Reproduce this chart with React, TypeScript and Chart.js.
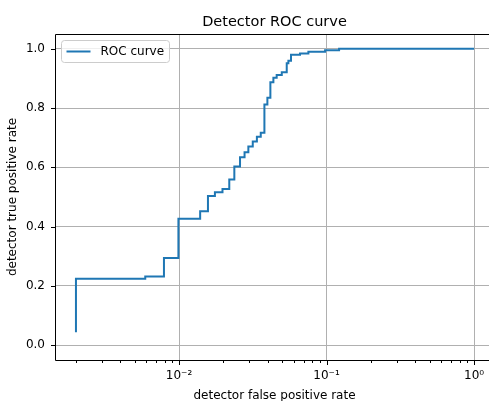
import { useEffect, useRef } from 'react';
import { Chart, registerables } from 'chart.js';

Chart.register(...registerables);

const TITLE = 'Detector ROC curve';
const X_LABEL = 'detector false positive rate';
const Y_LABEL = 'detector true positive rate';
const SERIES_LABEL = 'ROC curve';

// ROC step points (false positive rate, true positive rate)
const fpr = [
  0.002, 0.002, 0.0059, 0.0079, 0.0099, 0.0139, 0.0157, 0.0175, 0.0197, 0.0219,
  0.0237, 0.0259, 0.0278, 0.0295, 0.0316, 0.0337, 0.0358, 0.0379, 0.0397, 0.0416,
  0.0436, 0.0459, 0.0497, 0.0537, 0.0551, 0.0574, 0.0661, 0.0753, 0.0977, 0.1216, 1.0,
];
const tpr = [
  0.044, 0.224, 0.232, 0.294, 0.427, 0.452, 0.503, 0.516, 0.527, 0.559,
  0.603, 0.634, 0.651, 0.670, 0.687, 0.703, 0.717, 0.812, 0.835, 0.887,
  0.902, 0.912, 0.921, 0.951, 0.960, 0.980, 0.984, 0.990, 0.995, 1.0, 1.0,
];

const yTicks = [0.0, 0.2, 0.4, 0.6, 0.8, 1.0];
const xMajorTicks = [0.01, 0.1, 1];
const xMinorTicks = [
  0.002, 0.003, 0.004, 0.005, 0.006, 0.007, 0.008, 0.009,
  0.02, 0.03, 0.04, 0.05, 0.06, 0.07, 0.08, 0.09,
  0.2, 0.3, 0.4, 0.5, 0.6, 0.7, 0.8, 0.9,
];
const SUP: Record<string, string> = { '-': '⁻', '0': '⁰', '1': '¹', '2': '²', '3': '³' };

const FONT = 'DejaVu Sans';
const LINE_COLOR = '#1f77b4';
const GRID_COLOR = '#b0b0b0';

const isMajor = (v: number) => {
  const l = Math.log10(v);
  return Math.abs(l - Math.round(l)) < 1e-9;
};

const framePlugin = {
  id: 'frame',
  afterDatasetsDraw(chart: any) {
    const { ctx, chartArea: a, scales } = chart;
    ctx.save();
    const L = Math.round(a.left) + 0.5;
    const T = Math.round(a.top) + 0.5;
    const R = Math.round(a.right) + 0.5;
    const B = Math.round(a.bottom) + 0.5;
    ctx.strokeStyle = '#000';
    ctx.lineWidth = 1;
    // left, top and bottom spines (the right spine lies outside the picture)
    ctx.beginPath();
    ctx.moveTo(R, T); ctx.lineTo(L, T); ctx.lineTo(L, B); ctx.lineTo(R, B);
    ctx.stroke();
    // tick marks
    ctx.beginPath();
    [...xMajorTicks, ...xMinorTicks].forEach((v) => {
      const px = Math.round(scales.x.getPixelForValue(v)) + 0.5;
      const len = isMajor(v) ? 4.5 : 2.5;
      ctx.moveTo(px, B);
      ctx.lineTo(px, B + len);
    });
    yTicks.forEach((v) => {
      const py = Math.round(scales.y.getPixelForValue(v)) + 0.5;
      ctx.moveTo(L, py);
      ctx.lineTo(L - 4.5, py);
    });
    ctx.stroke();
    // title, centred on the axes
    ctx.fillStyle = '#000';
    ctx.font = `14.5px "${FONT}"`;
    ctx.textAlign = 'center';
    ctx.textBaseline = 'alphabetic';
    ctx.fillText(TITLE, (a.left + a.right) / 2, 26);
    // legend
    const bx = L + 6, by = T + 6, bw = 108, bh = 22, r = 3;
    ctx.beginPath();
    ctx.moveTo(bx + r, by);
    ctx.lineTo(bx + bw - r, by);
    ctx.arcTo(bx + bw, by, bx + bw, by + r, r);
    ctx.lineTo(bx + bw, by + bh - r);
    ctx.arcTo(bx + bw, by + bh, bx + bw - r, by + bh, r);
    ctx.lineTo(bx + r, by + bh);
    ctx.arcTo(bx, by + bh, bx, by + bh - r, r);
    ctx.lineTo(bx, by + r);
    ctx.arcTo(bx, by, bx + r, by, r);
    ctx.closePath();
    ctx.fillStyle = 'rgba(255,255,255,0.8)';
    ctx.fill();
    ctx.strokeStyle = '#cccccc';
    ctx.lineWidth = 1;
    ctx.stroke();
    const ly = by + bh / 2;
    ctx.beginPath();
    ctx.strokeStyle = LINE_COLOR;
    ctx.lineWidth = 2;
    ctx.moveTo(bx + 5, ly);
    ctx.lineTo(bx + 29, ly);
    ctx.stroke();
    ctx.fillStyle = '#000';
    ctx.font = `12px "${FONT}"`;
    ctx.textBaseline = 'middle';
    ctx.textAlign = 'left';
    ctx.fillText(chart.data.datasets[0].label, bx + 39, ly + 0.5);
    ctx.restore();
  },
};

export default function App() {
  const ref = useRef<HTMLCanvasElement | null>(null);
  useEffect(() => {
    if (!ref.current) return;
    const chart = new Chart(ref.current, {
      type: 'scatter',
      data: {
        datasets: [
          {
            label: SERIES_LABEL,
            data: fpr.map((x, i) => ({ x, y: tpr[i] })),
            showLine: true,
            stepped: true,
            borderColor: LINE_COLOR,
            backgroundColor: LINE_COLOR,
            borderWidth: 2,
            pointRadius: 0,
            fill: false,
          } as any,
        ],
      },
      options: {
        animation: false,
        responsive: false,
        devicePixelRatio: 1,
        layout: { padding: { top: 34, left: 0, right: -5, bottom: 0 } },
        plugins: {
          legend: { display: false },
          tooltip: { enabled: false },
          title: { display: false },
        },
        scales: {
          x: {
            type: 'logarithmic',
            min: 0.001442,
            max: 1.365,
            afterBuildTicks: (s: any) => {
              s.ticks = [...xMinorTicks, ...xMajorTicks]
                .sort((a, b) => a - b)
                .map((v) => ({ value: v, major: isMajor(v) }));
            },
            afterFit: (s: any) => {
              s.height = 41;
              s.paddingLeft = 0;
              s.paddingRight = 0;
            },
            ticks: {
              autoSkip: false,
              maxRotation: 0,
              minRotation: 0,
              padding: 9,
              color: '#000',
              font: { family: FONT, size: 12 },
              callback: (v: any) => {
                const n = Number(v);
                if (!isMajor(n)) return '';
                const e = String(Math.round(Math.log10(n)));
                return '10' + e.split('').map((c) => SUP[c] ?? c).join('');
              },
            },
            grid: {
              drawTicks: false,
              lineWidth: 1,
              color: (c: any) => (c.tick && isMajor(c.tick.value) ? GRID_COLOR : 'rgba(0,0,0,0)'),
            },
            border: { display: false },
            title: {
              display: true,
              text: X_LABEL,
              color: '#000',
              font: { family: FONT, size: 12 },
              padding: { top: 0, bottom: -2 },
            },
          },
          y: {
            type: 'linear',
            min: -0.05,
            max: 1.05,
            afterBuildTicks: (s: any) => {
              s.ticks = yTicks.map((v) => ({ value: v }));
            },
            afterFit: (s: any) => {
              s.width = 55;
              s.paddingTop = 0;
              s.paddingBottom = 0;
            },
            ticks: {
              padding: 10,
              color: '#000',
              font: { family: FONT, size: 12 },
              callback: (v: any) => Number(v).toFixed(1),
            },
            grid: { drawTicks: false, lineWidth: 1, color: GRID_COLOR },
            border: { display: false },
            title: {
              display: true,
              text: Y_LABEL,
              color: '#000',
              font: { family: FONT, size: 12 },
              padding: { top: 6, bottom: 0 },
            },
          },
        },
      } as any,
      plugins: [framePlugin],
    });
    return () => chart.destroy();
  }, []);
  return (
    <div style={{ position: 'fixed', left: 0, top: 0, width: 489, height: 401, overflow: 'hidden', background: '#fff' }}>
      <canvas ref={ref} width={494} height={401} style={{ width: 494, height: 401, display: 'block' }} />
    </div>
  );
}
